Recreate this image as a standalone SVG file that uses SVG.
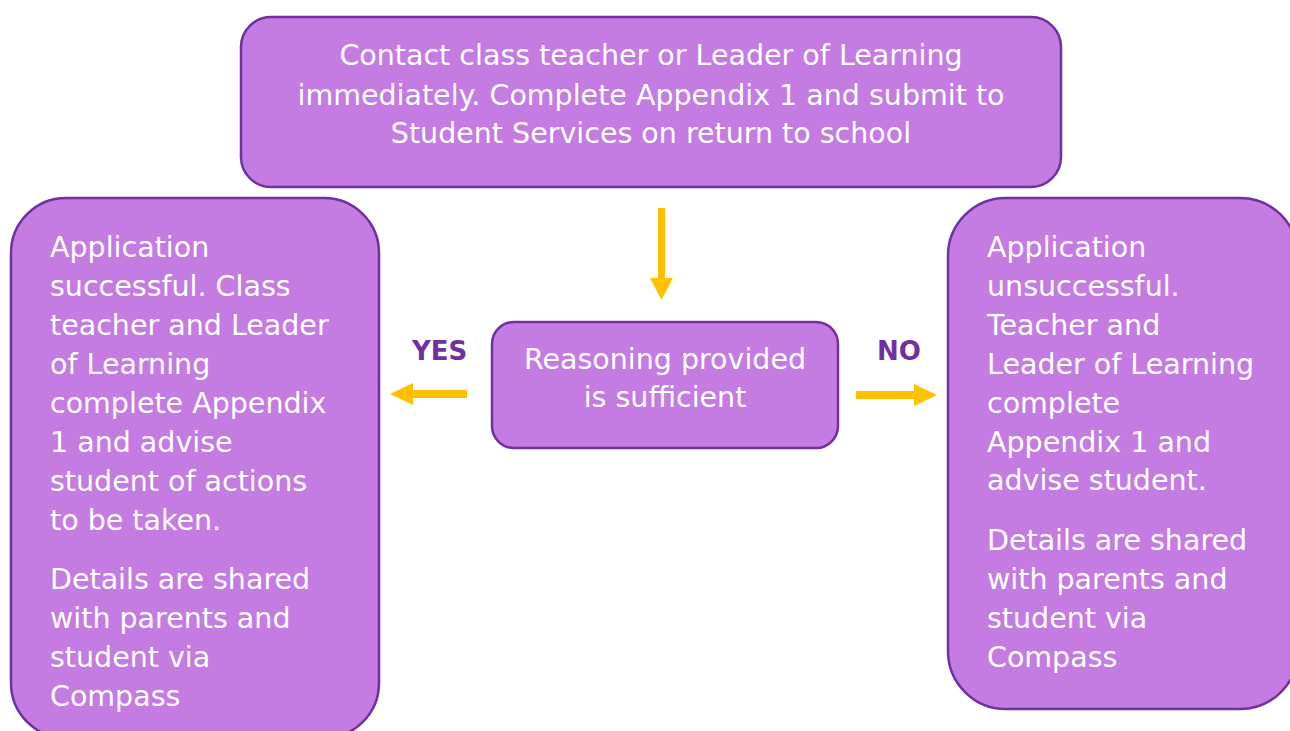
<svg xmlns="http://www.w3.org/2000/svg" width="1290" height="731" viewBox="0 0 1290 731">
  <defs>
    <style>
      .box { fill: #C47CE2; stroke: #7030A0; stroke-width: 2.5; }
      .txt { font-family: "DejaVu Sans", "Liberation Sans", sans-serif; font-size: 28.5px; fill: #FFFFFF; }
      .mid { text-anchor: middle; }
      .lbl { font-family: "DejaVu Sans", "Liberation Sans", sans-serif; font-size: 26px; font-weight: bold; fill: #7030A0; }
      .arrow { fill: #FFC000; }
    </style>
  </defs>
  <rect width="1290" height="731" fill="#FFFFFF"/>

  <!-- Step 1: contact staff -->
  <g id="node-contact">
    <rect class="box" x="241" y="17" width="820" height="170" rx="30" ry="30"/>
    <text class="txt mid" x="651" y="65">Contact class teacher or Leader of Learning</text>
    <text class="txt mid" x="651" y="105">immediately. Complete Appendix 1 and submit to</text>
    <text class="txt mid" x="651" y="143">Student Services on return to school</text>
  </g>

  <!-- Decision -->
  <g id="node-decision">
    <rect class="box" x="492" y="322" width="346" height="126" rx="22" ry="22"/>
    <text class="txt mid" x="665" y="369">Reasoning provided</text>
    <text class="txt mid" x="665" y="407">is sufficient</text>
  </g>

  <!-- Outcome: successful -->
  <g id="node-success">
    <rect class="box" x="11" y="198" width="368" height="540" rx="55" ry="55"/>
    <text class="txt" x="50" y="257">Application</text>
    <text class="txt" x="50" y="296">successful. Class</text>
    <text class="txt" x="50" y="335">teacher and Leader</text>
    <text class="txt" x="50" y="374">of Learning</text>
    <text class="txt" x="50" y="413">complete Appendix</text>
    <text class="txt" x="50" y="452">1 and advise</text>
    <text class="txt" x="50" y="491">student of actions</text>
    <text class="txt" x="50" y="530">to be taken.</text>
    <text class="txt" x="50" y="589">Details are shared</text>
    <text class="txt" x="50" y="628">with parents and</text>
    <text class="txt" x="50" y="667">student via</text>
    <text class="txt" x="50" y="706">Compass</text>
  </g>

  <!-- Outcome: unsuccessful -->
  <g id="node-fail">
    <rect class="box" x="948" y="198" width="350" height="511" rx="58" ry="58"/>
    <text class="txt" x="987" y="257">Application</text>
    <text class="txt" x="987" y="296">unsuccessful.</text>
    <text class="txt" x="987" y="335">Teacher and</text>
    <text class="txt" x="987" y="374">Leader of Learning</text>
    <text class="txt" x="987" y="413">complete</text>
    <text class="txt" x="987" y="452">Appendix 1 and</text>
    <text class="txt" x="987" y="490">advise student.</text>
    <text class="txt" x="987" y="550">Details are shared</text>
    <text class="txt" x="987" y="589">with parents and</text>
    <text class="txt" x="987" y="628">student via</text>
    <text class="txt" x="987" y="667">Compass</text>
  </g>

  <!-- Connectors -->
  <g id="connectors">
    <polygon class="arrow" points="658,208 665,208 665,278 673,278 661.5,300 650,278 658,278"/>
    <polygon class="arrow" points="467,390 467,398 413,398 413,405 390,394 413,383 413,390"/>
    <polygon class="arrow" points="856,391 856,399 914,399 914,406 937,395 914,384 914,391"/>
    <text class="lbl" x="412" y="360">YES</text>
    <text class="lbl" x="877" y="360">NO</text>
  </g>
</svg>
